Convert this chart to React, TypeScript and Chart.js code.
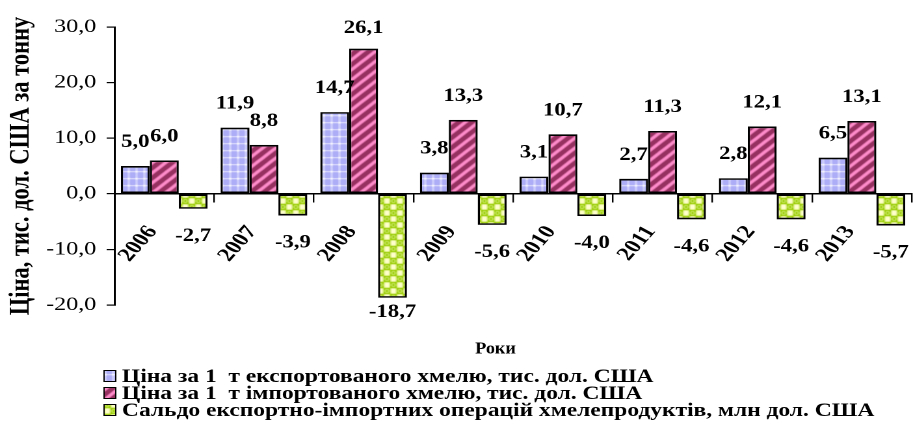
import React, { useEffect, useRef } from 'react';
import { Chart, registerables } from 'chart.js';

Chart.register(...registerables);

const categories = ['2006', '2007', '2008', '2009', '2010', '2011', '2012', '2013'];
const exportPrice = [5.0, 11.9, 14.7, 3.8, 3.1, 2.7, 2.8, 6.5];
const importPrice = [6.0, 8.8, 26.1, 13.3, 10.7, 11.3, 12.1, 13.1];
const balance = [-2.7, -3.9, -18.7, -5.6, -4.0, -4.6, -4.6, -5.7];
const seriesNames = [
  'Ціна за 1  т експортованого хмелю, тис. дол. США',
  'Ціна за 1  т імпортованого хмелю, тис. дол. США',
  'Сальдо експортно-імпортних операцій хмелепродуктів, млн дол. США',
];
const yTitle = 'Ціна, тис. дол. США за тонну';
const xTitle = 'Роки';
const yMin = -20;
const yMax = 30;
const yStep = 10;

const FONT = '"Liberation Serif", "Times New Roman", serif';
const SCREEN_W = 913;
const H = 433;
const INNER_W = 702;
const SX = SCREEN_W / INNER_W;

const fmt = (v: number) => v.toFixed(1).replace('.', ',');

function makePattern(kind: number): CanvasPattern | string {
  const c = document.createElement('canvas');
  const g = c.getContext('2d');
  if (!g) return '#ccc';
  if (kind === 0) {
    c.width = 6; c.height = 7;
    g.fillStyle = '#acacf7'; g.fillRect(0, 0, 6, 7);
    g.fillStyle = '#e0e0ff';
    g.fillRect(0, 3, 6, 1.2);
    g.fillRect(2.4, 0, 1.2, 7);
    g.fillStyle = '#ffffff';
    g.fillRect(2.2, 2.8, 1.6, 1.6);
  } else if (kind === 1) {
    c.width = 10; c.height = 10;
    g.fillStyle = '#953060'; g.fillRect(0, 0, 10, 10);
    g.strokeStyle = '#ff8ccb';
    g.lineWidth = 3;
    const seg = (x1: number, y1: number, x2: number, y2: number) => {
      g.beginPath(); g.moveTo(x1, y1); g.lineTo(x2, y2); g.stroke();
    };
    seg(-1, 11, 11, -1);
    seg(-6, 6, 6, -6);
    seg(4, 16, 16, 4);
  } else {
    c.width = 10; c.height = 12;
    g.fillStyle = '#99cc00'; g.fillRect(0, 0, 10, 12);
    g.fillStyle = '#ffffcc';
    g.fillRect(0.3, 0.3, 4.4, 5.4);
    g.fillRect(5.3, 6.3, 4.4, 5.4);
    g.strokeStyle = '#d4ee80';
    g.lineWidth = 1;
    g.beginPath(); g.arc(7.5, 3, 1.6, 0, Math.PI * 2); g.stroke();
    g.beginPath(); g.arc(2.5, 9, 1.6, 0, Math.PI * 2); g.stroke();
  }
  return g.createPattern(c, 'repeat') || '#ccc';
}

export default function App() {
  const ref = useRef<HTMLCanvasElement | null>(null);

  useEffect(() => {
    if (!ref.current) return;
    const fills = [makePattern(0), makePattern(1), makePattern(2)];

    const valueLabels = {
      id: 'valueLabels',
      afterDatasetsDraw(chart: any) {
        const ctx = chart.ctx as CanvasRenderingContext2D;
        ctx.save();
        ctx.font = `bold 19px ${FONT}`;
        ctx.fillStyle = '#000';
        ctx.textAlign = 'center';
        ctx.textBaseline = 'alphabetic';
        chart.data.datasets.forEach((ds: any, i: number) => {
          const meta = chart.getDatasetMeta(i);
          meta.data.forEach((bar: any, j: number) => {
            const v = ds.data[j] as number;
            const t = fmt(v);
            const y = v >= 0
              ? Math.max(bar.y - 19, 33)
              : Math.min(bar.y + 32, chart.chartArea.bottom + 12);
            ctx.save();
            ctx.translate(bar.x, y);
            ctx.scale(0.92, 1);
            ctx.fillText(t, 0, 0);
            ctx.restore();
          });
        });
        ctx.restore();
      },
    };

    const legendPlugin = {
      id: 'customLegend',
      afterDraw(chart: any) {
        const ctx = chart.ctx as CanvasRenderingContext2D;
        ctx.save();
        ctx.fillStyle = '#000';
        ctx.textBaseline = 'middle';
        ctx.save();
        ctx.translate(381, 349);
        ctx.scale(0.82, 1);
        ctx.font = `bold 17px ${FONT}`;
        ctx.textAlign = 'center';
        ctx.fillText(xTitle, 0, 0);
        ctx.restore();
        ctx.textAlign = 'left';
        const y0 = 376;
        seriesNames.forEach((name, i) => {
          const y = y0 + i * 17;
          ctx.fillStyle = fills[i] as any;
          ctx.fillRect(80, y - 5.5, 9, 11);
          ctx.strokeStyle = '#000';
          ctx.lineWidth = 1;
          ctx.strokeRect(80, y - 5.5, 9, 11);
          ctx.fillStyle = '#000';
          ctx.save();
          ctx.translate(93.8, y + 1);
          ctx.scale(0.95, 1);
          ctx.font = `bold 19px ${FONT}`;
          ctx.fillText(name, 0, 0);
          ctx.restore();
        });
        ctx.restore();
      },
    };

    const chart = new Chart(ref.current, {
      type: 'bar',
      data: {
        labels: categories,
        datasets: [
          { label: seriesNames[0], data: exportPrice, backgroundColor: fills[0] as any, borderColor: '#000', borderWidth: 1.7, borderSkipped: false },
          { label: seriesNames[1], data: importPrice, backgroundColor: fills[1] as any, borderColor: '#000', borderWidth: 1.7, borderSkipped: false },
          { label: seriesNames[2], data: balance, backgroundColor: fills[2] as any, borderColor: '#000', borderWidth: 1.7, borderSkipped: false },
        ],
      },
      options: {
        animation: false,
        responsive: false,
        devicePixelRatio: 2,
        layout: { padding: { top: 27, bottom: 128, left: 0, right: 1 } },
        datasets: { bar: { categoryPercentage: 0.87, barPercentage: 1 } },
        plugins: { legend: { display: false }, tooltip: { enabled: false } },
        scales: {
          x: {
            type: 'category',
            position: { y: 0 } as any,
            offset: true,
            grid: { offset: true, drawOnChartArea: false, drawTicks: true, tickLength: 8, color: '#000', lineWidth: 1.2 },
            border: { color: '#000', width: 1.5 },
            ticks: {
              color: '#000',
              font: { family: FONT, size: 19, weight: 'bold' },
              minRotation: 55,
              maxRotation: 55,
              autoSkip: false,
              padding: 20,
              labelOffset: -9,
            },
            afterFit: (s: any) => { s.paddingLeft = 0; s.paddingRight = 0; },
          },
          y: {
            min: yMin,
            max: yMax,
            ticks: {
              stepSize: yStep,
              color: '#000',
              font: { family: FONT, size: 18.5 },
              padding: 8,
              callback: (v: any) => fmt(Number(v)),
            },
            grid: { drawOnChartArea: false, drawTicks: true, tickLength: 6, color: '#000', lineWidth: 1.2 },
            border: { color: '#000', width: 1.5 },
            title: {
              display: true,
              text: yTitle,
              color: '#000',
              font: { family: FONT, size: 22.5, weight: 'bold' },
              padding: { top: 2.5, bottom: 0 },
            },
            afterFit: (s: any) => { s.width = 88; },
          },
        },
      },
      plugins: [valueLabels, legendPlugin],
    });
    return () => chart.destroy();
  }, []);

  return (
    <div style={{ position: 'absolute', left: 0, top: 0, width: SCREEN_W, height: H, overflow: 'hidden', background: '#fff' }}>
      <div style={{ width: INNER_W, height: H, transform: `scaleX(${SX})`, transformOrigin: '0 0' }}>
        <canvas ref={ref} width={INNER_W} height={H} style={{ display: 'block', width: INNER_W, height: H }} />
      </div>
    </div>
  );
}
